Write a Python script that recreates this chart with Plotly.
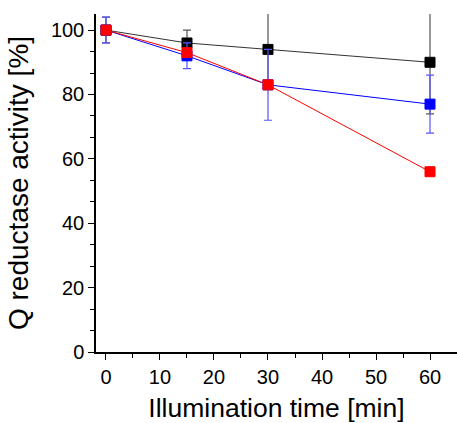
import plotly.graph_objects as go

time_min = [0, 15, 30, 60]
black_vals = [100, 96, 94, 90]
black_err = [4, 4, 12, 16]
blue_vals = [100, 92, 83, 77]
blue_err = [4, 4, 11, 9]
red_vals = [100, 93, 83, 56]
red_err = [1, 1, 1, 0.8]

x_ticks = [0, 10, 20, 30, 40, 50, 60]
y_ticks = [0, 20, 40, 60, 80, 100]

FONT = "Liberation Sans, Arial, sans-serif"

fig = go.Figure()

def add(vals, err, line_color, marker_color, err_color):
    fig.add_trace(go.Scatter(
        x=time_min, y=vals, mode="lines+markers",
        line=dict(color=line_color, width=1),
        marker=dict(symbol="square", size=10, color=marker_color,
                    line=dict(color=marker_color, width=1)),
        error_y=dict(type="data", array=err, visible=True,
                     color=err_color, thickness=1.2, width=4),
        showlegend=False,
    ))

add(black_vals, black_err, "#333333", "#000000", "#555555")
add(blue_vals, blue_err, "#0000ff", "#0000ff", "#5555ff")
add(red_vals, red_err, "#ff0000", "#ff0000", "#222222")

fig.update_layout(
    width=457, height=423,
    margin=dict(l=96, r=0, t=14, b=71),
    paper_bgcolor="white", plot_bgcolor="white",
    font=dict(family=FONT, color="#000000"),
)
fig.update_xaxes(
    range=[-1.85, 65], tickvals=x_ticks, ticks="outside", ticklen=6,
    tickwidth=1.2, tickcolor="#000", showline=True, linecolor="#000",
    linewidth=1.5, showgrid=False, zeroline=False,
    tickfont=dict(size=20, family=FONT),
    minor=dict(dtick=5, tick0=0, ticks="outside", ticklen=4, tickcolor="#000", showgrid=False),
    title=dict(text="Illumination time [min]", font=dict(size=26.5, family=FONT), standoff=12),
)
fig.update_yaxes(
    range=[0, 105], tickvals=y_ticks, ticks="outside", ticklen=6,
    tickwidth=1.2, tickcolor="#000", showline=True, linecolor="#000",
    linewidth=1.5, showgrid=False, zeroline=False,
    tickfont=dict(size=20, family=FONT),
    minor=dict(dtick=20/3, tick0=0, ticks="outside", ticklen=4, tickcolor="#000", showgrid=False),
    title=dict(text="Q reductase activity [%]", font=dict(size=28, family=FONT), standoff=14),
)

fig.write_html("out.html")
